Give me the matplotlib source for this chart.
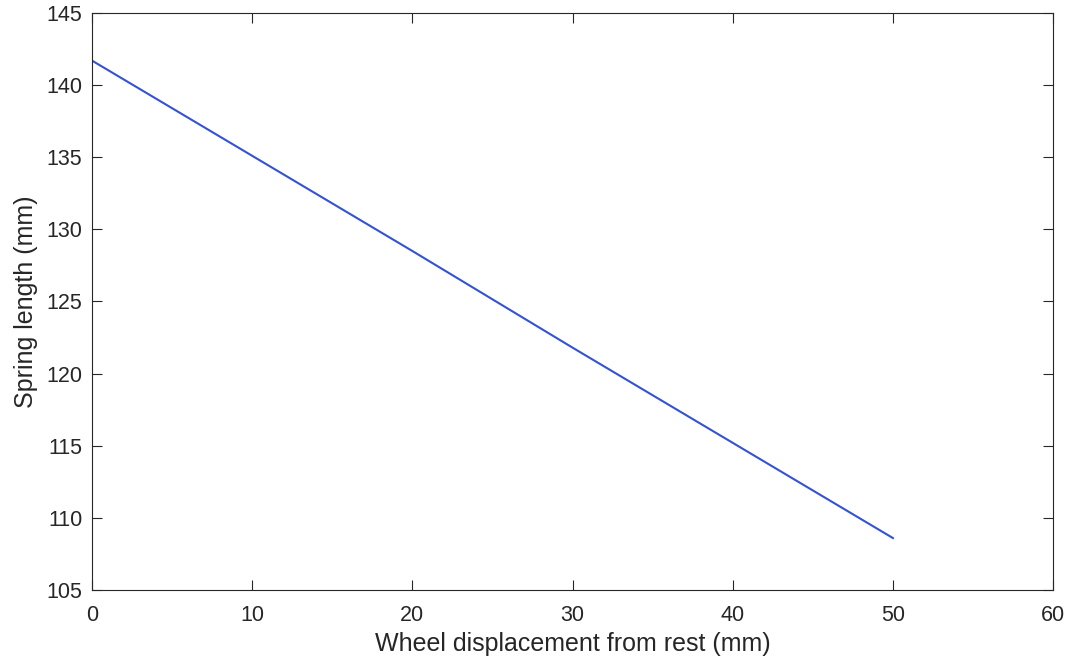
import numpy as np
import matplotlib.pyplot as plt

plt.rcParams['font.family'] = ['Liberation Sans', 'DejaVu Sans']

# --- Data
displacement = [0, 10, 20, 30, 40, 50]
spring_length = [141.7, 135.1, 128.5, 121.8, 115.2, 108.6]

xticks = [0, 10, 20, 30, 40, 50, 60]
yticks = [105, 110, 115, 120, 125, 130, 135, 140, 145]

# --- Plot
fig = plt.figure(figsize=(10.68, 6.65), dpi=100)
ax = fig.add_axes([0.0861, 0.1128, 0.9000, 0.8677])

ax.plot(displacement, spring_length, color='#3352d4', linewidth=1.5)

ax.set_xlim(0, 60)
ax.set_ylim(105, 145)
ax.set_xticks(xticks)
ax.set_yticks(yticks)
ax.tick_params(direction='in', top=True, right=True, length=7, width=0.8,
               labelsize=15.5, colors='#262626')
ax.tick_params(axis='x', pad=11)
ax.tick_params(axis='y', pad=7)
for s in ax.spines.values():
	s.set_linewidth(0.8)
	s.set_color('#262626')

ax.set_xlabel('Wheel displacement from rest (mm)', fontsize=18, color='#262626', labelpad=4)
ax.set_ylabel('Spring length (mm)', fontsize=18, color='#262626', labelpad=6)

fig.savefig('out.png', dpi=100)
